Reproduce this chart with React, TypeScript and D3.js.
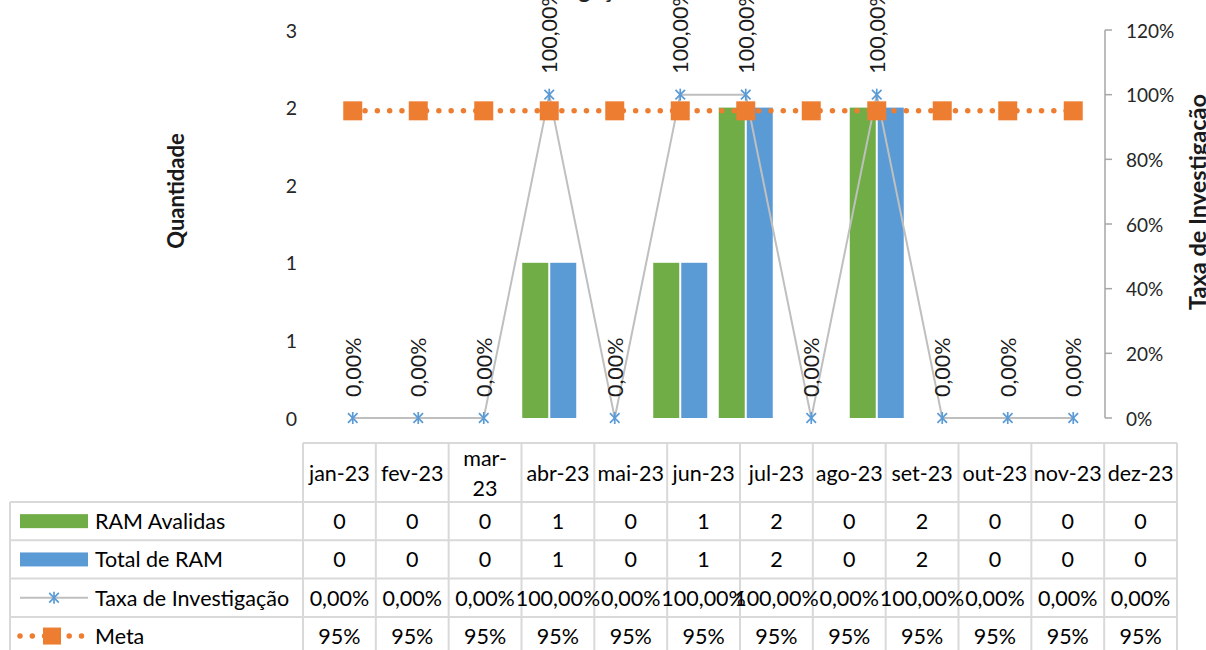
import React from "react";
import * as d3 from "d3";

// ---- data ----
const months = ["jan-23", "fev-23", "mar-23", "abr-23", "mai-23", "jun-23", "jul-23", "ago-23", "set-23", "out-23", "nov-23", "dez-23"];
const headerLabels = [["jan-23"], ["fev-23"], ["mar-", "23"], ["abr-23"], ["mai-23"], ["jun-23"], ["jul-23"], ["ago-23"], ["set-23"], ["out-23"], ["nov-23"], ["dez-23"]];
const ramAvaliadas = [0, 0, 0, 1, 0, 1, 2, 0, 2, 0, 0, 0];
const totalRam = [0, 0, 0, 1, 0, 1, 2, 0, 2, 0, 0, 0];
const taxaInvestigacao = [0, 0, 0, 1, 0, 1, 1, 0, 1, 0, 0, 0];
const meta = [0.95, 0.95, 0.95, 0.95, 0.95, 0.95, 0.95, 0.95, 0.95, 0.95, 0.95, 0.95];
const leftTicks = [0, 0.5, 1, 1.5, 2, 2.5];
const rightTicks = [0, 0.2, 0.4, 0.6, 0.8, 1.0, 1.2];
const seriesNames = ["RAM Avalidas", "Total de RAM", "Taxa de Investigação", "Meta"];
const titleText = "RAM Avalidas x Taxa de Investigação";
const leftTitle = "Quantidade";
const rightTitle = "Taxa de Investigação";

// ---- style ----
const W = 1206;
const H = 650;
const FONT = "Lato, 'Liberation Sans', sans-serif";
const GREEN = "#70ad47";
const BLUE = "#5b9bd5";
const ORANGE = "#ed7d31";
const GRAYLINE = "#bfbfbf";
const GRID = "#d9d9d9";
const plot = { left: 320, right: 1106, top: 30, bottom: 418 };
const tbl = { left: 10, colLeft: 303, right: 1177, headTop: 443, headBottom: 502, rowH: 38.3 };

const ptBR = d3.formatLocale({ decimal: ",", thousands: ".", grouping: [3], currency: ["R$", ""] });
const fmtPct2 = ptBR.format(".2%");
const fmtPct0 = ptBR.format(".0%");
const fmtInt = d3.format(".0f");

function Asterisk({ cx, cy, r = 6 }: { cx: number; cy: number; r?: number }) {
  const d = r * 0.8;
  return (
    <g stroke={BLUE} strokeWidth={1.7}>
      <line x1={cx} y1={cy - r} x2={cx} y2={cy + r} />
      <line x1={cx - d} y1={cy - d} x2={cx + d} y2={cy + d} />
      <line x1={cx - d} y1={cy + d} x2={cx + d} y2={cy - d} />
    </g>
  );
}

export default function App() {
  const x = d3.scaleBand<string>().domain(months).range([plot.left, plot.right]);
  const sub = d3.scaleBand<string>().domain(["a", "t"]).range([-27, 27]).paddingInner(0.0714);
  const yL = d3.scaleLinear().domain([0, 2.5]).range([plot.bottom, plot.top]);
  const yR = d3.scaleLinear().domain([0, 1.2]).range([plot.bottom, plot.top]);
  const cx = (m: string) => (x(m) ?? 0) + x.bandwidth() / 2;

  const col = d3.scaleBand<string>().domain(months).range([tbl.colLeft, tbl.right]);
  const ccx = (m: string) => (col(m) ?? 0) + col.bandwidth() / 2;

  const taxaLine = d3.line<number>().x((_, i) => cx(months[i])).y((d) => yR(d))(taxaInvestigacao) ?? "";
  const metaLine = d3.line<number>().x((_, i) => cx(months[i])).y((d) => yR(d))(meta) ?? "";

  const tableFont = 21.5;
  const rowY = (i: number) => tbl.headBottom + i * tbl.rowH;
  const rowC = (i: number) => rowY(i) + tbl.rowH / 2;

  const rowValues: string[][] = [
    ramAvaliadas.map((v) => fmtInt(v)),
    totalRam.map((v) => fmtInt(v)),
    taxaInvestigacao.map((v) => fmtPct2(v)),
    meta.map((v) => fmtPct0(v)),
  ];

  const headMid = (tbl.headTop + tbl.headBottom) / 2;
  const bottomY = rowY(4);

  return (
    <svg width={W} height={H} style={{ position: "absolute", left: 0, top: 0, background: "#fff" }} fontFamily={FONT}>
      <rect x={0} y={0} width={W} height={H} fill="#fff" />
      {/* title (mostly cut off at the top) */}
      <text x={450} y={-2} textAnchor="middle" fontSize={23} fontWeight="bold" fill="#262626">{titleText}</text>

      {/* bars */}
      {months.map((m, i) => (
        <g key={"b" + m}>
          {ramAvaliadas[i] > 0 && (
            <rect x={cx(m) + (sub("a") ?? 0)} y={yL(ramAvaliadas[i])} width={sub.bandwidth()} height={yL(0) - yL(ramAvaliadas[i])} fill={GREEN} />
          )}
          {totalRam[i] > 0 && (
            <rect x={cx(m) + (sub("t") ?? 0)} y={yL(totalRam[i])} width={sub.bandwidth()} height={yL(0) - yL(totalRam[i])} fill={BLUE} />
          )}
        </g>
      ))}

      {/* taxa line */}
      <path d={taxaLine} fill="none" stroke={GRAYLINE} strokeWidth={2} />
      {months.map((m, i) => (
        <Asterisk key={"s" + m} cx={cx(m)} cy={yR(taxaInvestigacao[i])} />
      ))}

      {/* meta line */}
      <path d={metaLine} fill="none" stroke={ORANGE} strokeWidth={5.5} strokeDasharray="0 12.3" strokeLinecap="round" />
      {months.map((m, i) => (
        <rect key={"q" + m} x={cx(m) - 9.5} y={yR(meta[i]) - 9.5} width={19} height={19} fill={ORANGE} />
      ))}

      {/* data labels */}
      {months.map((m, i) => {
        const px = cx(m);
        const py = yR(taxaInvestigacao[i]) - 21;
        return (
          <text key={"l" + m} transform={`translate(${px},${py}) rotate(-90)`} textAnchor="start" dominantBaseline="central" fontSize={21.5} fill="#1a1a1a">
            {fmtPct2(taxaInvestigacao[i])}
          </text>
        );
      })}

      {/* left axis labels */}
      {leftTicks.map((t) => (
        <text key={"lt" + t} x={297} y={yL(t)} textAnchor="end" dominantBaseline="central" fontSize={19.5} fill="#262626">
          {fmtInt(t)}
        </text>
      ))}
      <text transform={`translate(175,191) rotate(-90)`} textAnchor="middle" dominantBaseline="central" fontSize={22} fontWeight="bold" fill="#1a1a1a">
        {leftTitle}
      </text>

      {/* right axis */}
      <line x1={plot.right - 1} x2={plot.right - 1} y1={plot.top} y2={plot.bottom} stroke="#a6a6a6" strokeWidth={1.5} />
      {rightTicks.map((t) => (
        <g key={"rt" + t}>
          <line x1={plot.right - 1} x2={plot.right + 6} y1={yR(t)} y2={yR(t)} stroke="#a6a6a6" strokeWidth={1.5} />
          <text x={1126} y={yR(t)} dominantBaseline="central" fontSize={19} fill="#262626">
            {fmtPct0(t)}
          </text>
        </g>
      ))}
      <text transform={`translate(1197,202) rotate(-90)`} textAnchor="middle" dominantBaseline="central" fontSize={23.5} fontWeight="bold" fill="#1a1a1a">
        {rightTitle}
      </text>

      {/* data table */}
      <g stroke={GRID} strokeWidth={2}>
        <line x1={tbl.colLeft} x2={tbl.right} y1={tbl.headTop} y2={tbl.headTop} />
        {[0, 1, 2, 3].map((i) => (
          <line key={"h" + i} x1={tbl.left} x2={tbl.right} y1={rowY(i)} y2={rowY(i)} />
        ))}
        <line x1={tbl.left} x2={tbl.left} y1={tbl.headBottom} y2={bottomY} />
        {months.map((m) => (
          <line key={"v" + m} x1={col(m) ?? 0} x2={col(m) ?? 0} y1={tbl.headTop} y2={bottomY} />
        ))}
        <line x1={tbl.right} x2={tbl.right} y1={tbl.headTop} y2={bottomY} />
      </g>
      {months.map((m, i) => {
        const lines = headerLabels[i];
        const lh = 30;
        return (
          <text key={"hd" + m} x={ccx(m)} textAnchor="middle" fontSize={tableFont} fill="#000">
            {lines.map((ln, k) => (
              <tspan key={k} x={ccx(m)} y={headMid + (k - (lines.length - 1) / 2) * lh} dominantBaseline="central">
                {ln}
              </tspan>
            ))}
          </text>
        );
      })}
      {rowValues.map((vals, r) =>
        vals.map((v, i) => (
          <text key={"c" + r + "-" + i} x={ccx(months[i])} y={rowC(r)} textAnchor="middle" dominantBaseline="central" fontSize={tableFont} fill="#000">
            {v}
          </text>
        ))
      )}

      {/* legend keys */}
      <rect x={20} y={rowC(0) - 7} width={68} height={14} fill={GREEN} />
      <rect x={20} y={rowC(1) - 7} width={68} height={14} fill={BLUE} />
      <line x1={20} x2={88} y1={rowC(2)} y2={rowC(2)} stroke={GRAYLINE} strokeWidth={2} />
      <Asterisk cx={54} cy={rowC(2)} />
      <line x1={20} x2={84} y1={rowC(3)} y2={rowC(3)} stroke={ORANGE} strokeWidth={5.5} strokeDasharray="0 12.3" strokeLinecap="round" />
      <rect x={43} y={rowC(3) - 8.5} width={18} height={17} fill={ORANGE} />
      {seriesNames.map((s, r) => (
        <text key={"sn" + s} x={95} y={rowC(r)} dominantBaseline="central" fontSize={tableFont} fill="#000">
          {s}
        </text>
      ))}
    </svg>
  );
}
